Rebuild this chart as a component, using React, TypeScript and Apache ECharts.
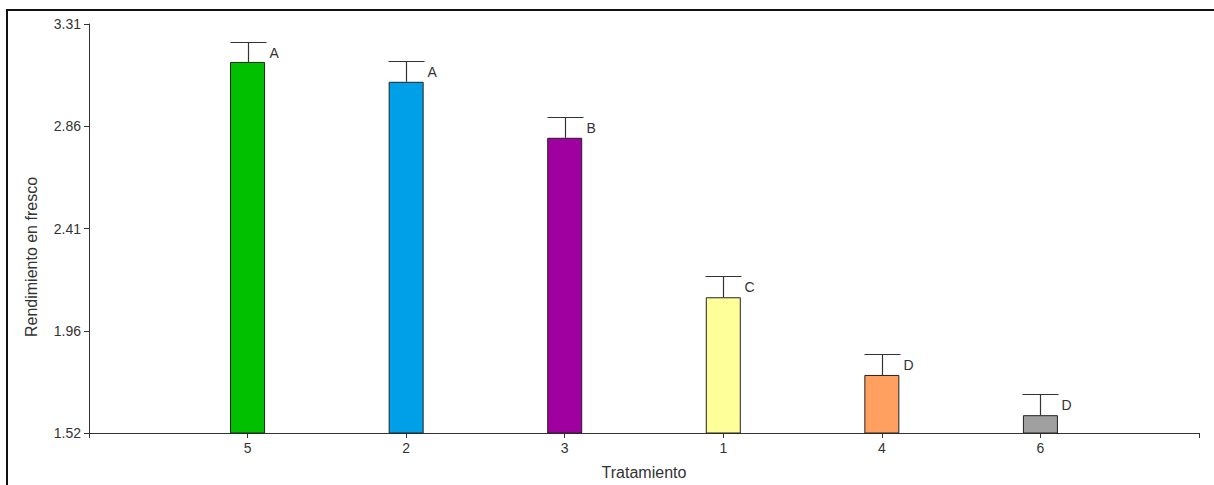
import React, { useEffect, useRef } from "react";
import * as echarts from "echarts";

const categories = ["5", "2", "3", "1", "4", "6"];
const means = [3.144, 3.057, 2.812, 2.114, 1.774, 1.598];
const errors = [0.088, 0.09, 0.092, 0.091, 0.093, 0.091];
const letters = ["A", "A", "B", "C", "D", "D"];
const barColors = ["#00C000", "#00A0E8", "#A000A0", "#FFFF99", "#FFA060", "#A0A0A0"];
const yTickValues = [1.52, 1.9675, 2.415, 2.8625, 3.31];
const yTickLabels = ["1.52", "1.96", "2.41", "2.86", "3.31"];
const yMin = 1.52;
const yMax = 3.31;
const xName = "Tratamiento";
const yName = "Rendimiento en fresco";

const FONT = "'Liberation Sans', Arial, sans-serif";
const INK = "#333333";

export default function App() {
  const ref = useRef<HTMLDivElement>(null);
  useEffect(() => {
    document.body.style.margin = "0";
    if (!ref.current) return;
    const chart = echarts.init(ref.current, null, { renderer: "svg" });
    const axisCats = ["", ...categories, ""];
    const barData: any[] = ["-"];
    const errData: any[] = [];
    categories.forEach((c, i) => {
      barData.push({ value: means[i], itemStyle: { color: barColors[i] } });
      errData.push([i + 1, means[i], means[i] + errors[i], letters[i]]);
    });
    barData.push("-");

    chart.setOption({
      animation: false,
      textStyle: { fontFamily: FONT },
      grid: { left: 89, right: 15, top: 24, bottom: 48, containLabel: false },
      xAxis: {
        type: "category",
        data: axisCats,
        boundaryGap: false,
        name: xName,
        nameLocation: "middle",
        nameGap: 31,
        nameTextStyle: { fontSize: 16, color: INK, fontFamily: FONT },
        axisLine: { lineStyle: { color: INK, width: 1 } },
        axisTick: { show: true, length: 5, lineStyle: { color: INK } },
        axisLabel: { interval: 0, fontSize: 14, color: INK, margin: 8, fontFamily: FONT },
        splitLine: { show: false },
      },
      yAxis: {
        type: "value",
        min: yMin,
        max: yMax,
        axisLine: { show: true, lineStyle: { color: INK, width: 1 } },
        axisTick: { show: true, length: 5, customValues: yTickValues, lineStyle: { color: INK } },
        axisLabel: {
          customValues: yTickValues,
          fontSize: 14,
          color: INK,
          margin: 8,
          fontFamily: FONT,
          formatter: (v: number) => {
            let best = 0;
            yTickValues.forEach((t, i) => {
              if (Math.abs(t - v) < Math.abs(yTickValues[best] - v)) best = i;
            });
            return yTickLabels[best];
          },
        },
        splitLine: { show: false },
      },
      graphic: [
        {
          type: "polyline",
          shape: { points: [[7, 485], [7, 10], [1214, 10]] },
          style: { stroke: "#111", lineWidth: 2, fill: null },
          silent: true,
        },
        {
          type: "text",
          x: 31,
          y: 257,
          rotation: Math.PI / 2,
          style: {
            text: yName,
            fontSize: 16,
            fontFamily: FONT,
            fill: INK,
            textAlign: "center",
            textVerticalAlign: "middle",
          },
        },
      ],
      series: [
        {
          type: "bar",
          data: barData,
          barWidth: 35,
          itemStyle: { borderColor: "#222", borderWidth: 1 },
          z: 2,
        },
        {
          type: "custom",
          data: errData,
          z: 3,
          renderItem: (params: any, api: any) => {
            const x = api.value(0);
            const base = api.coord([x, api.value(1)]);
            const top = api.coord([x, api.value(2)]);
            const half = 18;
            const cx = Math.round(base[0]) + 0.5;
            const ty = Math.round(top[1]) + 0.5;
            return {
              type: "group",
              children: [
                {
                  type: "line",
                  shape: { x1: cx, y1: base[1], x2: cx, y2: ty },
                  style: { stroke: "#333", lineWidth: 1.2 },
                },
                {
                  type: "line",
                  shape: { x1: cx - half, y1: ty, x2: cx + half, y2: ty },
                  style: { stroke: "#333", lineWidth: 1.2 },
                },
                {
                  type: "text",
                  x: cx + half + 3,
                  y: ty + 10,
                  style: {
                    text: letters[params.dataIndex],
                    fontSize: 14,
                    fontFamily: FONT,
                    fill: INK,
                    textAlign: "left",
                    textVerticalAlign: "middle",
                  },
                },
              ],
            };
          },
        },
      ],
    });
    return () => chart.dispose();
  }, []);
  return <div ref={ref} style={{ width: 1214, height: 485 }} />;
}
